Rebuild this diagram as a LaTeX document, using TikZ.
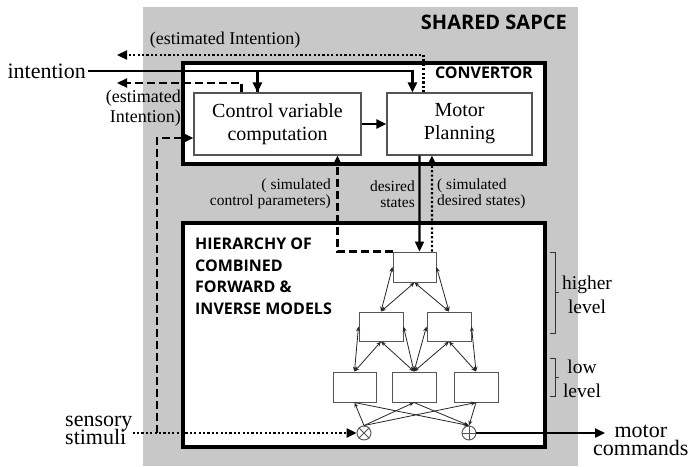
\documentclass[tikz,border=0pt]{standalone}
\usepackage{fontspec}
\setmainfont{Liberation Serif}
\newfontfamily\headfont{Open Sans}
\usetikzlibrary{arrows.meta,calc}

\definecolor{spacegray}{RGB}{200,200,200}
\definecolor{boxedge}{RGB}{85,85,85}

\begin{document}
% tight, fixed line spacing in multi-line labels
\lineskiplimit=-\maxdimen
\begin{tikzpicture}[x=1pt,y=-1pt,
  frame/.style={draw=black,line width=3.2pt,fill=white,inner sep=0pt},
  procbox/.style={draw=boxedge,line width=1.1pt,fill=white,inner sep=0pt,
    minimum height=62pt,align=center,font=\fontsize{20}{23}\selectfont},
  unitbox/.style={draw=boxedge,line width=1pt,fill=white,inner sep=0pt,
    minimum height=30pt,minimum width=44pt},
  junction/.style={circle,draw=boxedge,line width=0.9pt,fill=white,
    inner sep=0pt,minimum size=14pt},
  flow/.style={line width=2.3pt,-{Triangle[length=10pt,width=9pt]}},
  dashflow/.style={flow,dash pattern=on 8pt off 4pt},
  dotflow/.style={flow,dash pattern=on 2.2pt off 2.2pt},
  link/.style={line width=0.8pt,draw=black!85,
    {Stealth[length=5pt,width=4pt]}-{Stealth[length=5pt,width=4pt]}},
  feed/.style={line width=0.8pt,draw=black!85,-{Stealth[length=5pt,width=4pt]}},
  head/.style={font=\headfont\bfseries\fontsize{16}{21.5}\selectfont,inner sep=0pt},
  lbl/.style={font=\fontsize{18}{20}\selectfont,inner sep=0pt},
  small/.style={font=\fontsize{15.5}{16}\selectfont,inner sep=0pt},
  side/.style={font=\fontsize{19.5}{24}\selectfont,inner sep=0pt,align=center},
  bracket/.style={line width=0.8pt,draw=black!80}
]
\useasboundingbox (0,0) rectangle (688,466);

% shared space
\fill[spacegray] (143,7) rectangle (578,466);
\node[head,font=\headfont\bfseries\fontsize{20}{24}\selectfont,anchor=base east] (title) at (567,29) {SHARED SAPCE};

% convertor
\node[frame,minimum width=362pt,minimum height=101pt] (conv) at (364,113.5) {};
\node[head,anchor=base east] (convlbl) at (533,78) {CONVERTOR};
\node[procbox,minimum width=167pt] (ctrl) at (277.5,124) {Control variable\\computation};
\node[procbox,minimum width=145pt] (motor) at (459.5,124) {Motor\\Planning};

% hierarchy of models
\node[frame,minimum width=362pt,minimum height=224pt] (hier) at (364,335) {};
\node[head,anchor=north west,align=left] (hierlbl) at (195,238)
  {HIERARCHY OF\\COMBINED\\FORWARD \&\\INVERSE MODELS};
\node[unitbox,minimum width=43pt] (T) at (414.5,267) {};
\node[unitbox,minimum height=29pt] (M1) at (381,326.5) {};
\node[unitbox,minimum height=29pt] (M2) at (449,326.5) {};
\node[unitbox,minimum width=43pt] (B1) at (354.5,387) {};
\node[unitbox] (B2) at (414,387) {};
\node[unitbox] (B3) at (476,387) {};
\node[junction] (ot) at (364,433) {};
\draw[boxedge,line width=0.8pt] (ot.north west) -- (ot.south east) (ot.north east) -- (ot.south west);
\node[junction] (op) at (469,433) {};
\draw[boxedge,line width=0.8pt] (op.north) -- (op.south) (op.west) -- (op.east);

% links between levels
\draw[link] (T.west) -- (M1.north);
\draw[link] (T.south) -- (M1.north);
\draw[link] (T.south) -- (M2.north);
\draw[link] (T.east) -- (M2.north);
\draw[link] (M1.west) -- (B1.north);
\draw[link] (M1.south) -- (B1.north);
\draw[link] (M1.south) -- (B2.north);
\draw[link] (M1.east) -- (B2.north);
\draw[link] (M2.west) -- (B2.north);
\draw[link] (M2.south) -- (B2.north);
\draw[link] (M2.south) -- (B3.north);
\draw[link] (M2.east) -- (B3.north);
\foreach \b in {B1,B2,B3} {
  \draw[feed] (ot.north) -- (\b.south);
  \draw[feed] (\b.south) -- (op.north);
}

% level brackets
\draw[bracket] (550,252) -- (555,252) -- (555,333) -- (550,333) (555,292) -- (559,292);
\node[side] (hl) at (587,295) {higher\\level};
\draw[bracket] (550,358) -- (555,358) -- (555,396) -- (550,396) (555,377) -- (559,377);
\node[side] (ll) at (582,379) {low\\level};

% inputs and outputs
\node[font=\fontsize{22}{26}\selectfont,anchor=east,inner sep=2pt] (intention) at (88,71) {intention};
\node[font=\fontsize{22}{18}\selectfont,align=left,anchor=west,inner sep=0pt] (sensory) at (65,430) {sensory\\stimuli};
\node[font=\fontsize{22}{18}\selectfont,align=center,anchor=west,inner sep=0pt] (mc) at (593,440) {motor\\commands};

\coordinate (eitop) at (117,55);
\coordinate (eimid) at (117,83);
\coordinate (sj) at (157,433);

% intention into the convertor
\draw[line width=2.3pt] (intention.east) -| ([xshift=64pt]ctrl.north west);
\draw[flow] (intention.east) -| ([xshift=26pt]motor.north west);
\draw[flow] ([xshift=64pt]ctrl.north west |- intention.east) -- ([xshift=64pt]ctrl.north west);

% estimated intention outputs
\draw[dotflow] ([xshift=37pt]motor.north west) |- (eitop);
\node[lbl] (eilblA) at (225,40) {(estimated Intention)};
\draw[dashflow] ([xshift=48pt]ctrl.north west) |- (eimid);
\node[lbl,align=right,anchor=east] (eilblB) at (181,108) {(estimated\\Intention)};

\draw[flow] (ctrl.east) -- (motor.west);

% between convertor and hierarchy
\draw[dashflow] (T.north west) -| ([xshift=144pt]ctrl.south west);
\draw[flow] ([xshift=33pt]motor.south west) -- ([xshift=27pt]T.north west);
\draw[dotflow] ([xshift=39.5pt]T.north west) -- ([xshift=45.5pt]motor.south west);
\node[small,align=right,anchor=east] (scp) at (331,194) {( simulated\\control parameters)};
\node[small,align=right,anchor=east] (ds) at (415,194) {desired\\states};
\node[small,align=left,anchor=west] (sds) at (437,194) {( simulated\\desired states)};

% sensory input and motor output
\draw[dotflow] (sensory.east |- ot.west) -- (ot.west);
\draw[dashflow] (sj) |- ([yshift=-14pt]ctrl.west);
\draw[flow] (op.east) -- ($(op.east -| mc.west)+(12,0)$);
\end{tikzpicture}
\end{document}
